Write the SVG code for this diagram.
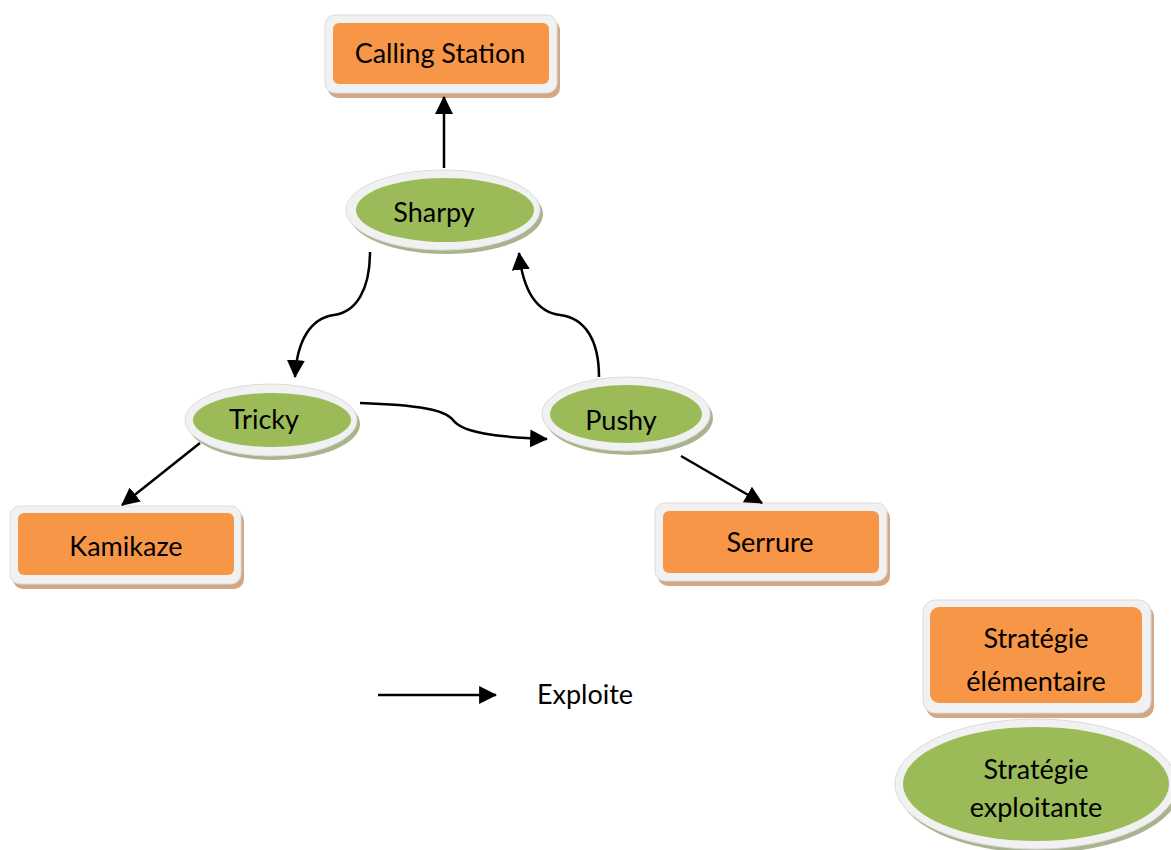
<svg xmlns="http://www.w3.org/2000/svg" width="1171" height="850" viewBox="0 0 1171 850">
<defs>
<style>
.t{font-family:Lato,"Open Sans","Liberation Sans",sans-serif;font-size:27px;fill:#000;text-anchor:middle;dominant-baseline:central}
.frame{fill:#f1f1f1;stroke:#dcdcdc;stroke-width:1}
.rs{fill:#d3a684}
.es{fill:#a9b38e}
.or{fill:#f79646}
.gr{fill:#9bbb59}
.c{fill:none;stroke:#000;stroke-width:2.5;marker-end:url(#ah)}
</style>
<marker id="ah" markerUnits="userSpaceOnUse" markerWidth="18" markerHeight="18" viewBox="0 0 16 16" refX="15" refY="8" orient="auto">
<path d="M0,0 L16,8 L0,16 Z" fill="#000"/>
</marker>
</defs>
<rect width="1171" height="850" fill="#fff"/>

<g id="calling-station">
<rect class="rs" x="328" y="20" width="232" height="78" rx="10"/>
<rect class="frame" x="325" y="15" width="232" height="78" rx="10"/>
<rect class="or" x="333" y="23" width="216" height="61" rx="6"/>
<text class="t" x="440" y="52">Calling Station</text>
</g>

<g id="sharpy">
<ellipse class="es" cx="446" cy="214" rx="97" ry="40"/>
<ellipse class="frame" cx="443" cy="210" rx="97" ry="40"/>
<ellipse class="gr" cx="445" cy="210" rx="89" ry="32"/>
<text class="t" x="434" y="211">Sharpy</text>
</g>

<g id="tricky">
<ellipse class="es" cx="274" cy="424" rx="86" ry="36"/>
<ellipse class="frame" cx="271" cy="420" rx="86" ry="36"/>
<ellipse class="gr" cx="272" cy="420" rx="79" ry="27"/>
<text class="t" x="264" y="418">Tricky</text>
</g>

<g id="pushy">
<ellipse class="es" cx="629" cy="418" rx="84" ry="37"/>
<ellipse class="frame" cx="626" cy="414" rx="84" ry="37"/>
<ellipse class="gr" cx="626" cy="414" rx="76" ry="29"/>
<text class="t" x="621" y="419">Pushy</text>
</g>

<g id="kamikaze">
<rect class="rs" x="13" y="511" width="231" height="78" rx="10"/>
<rect class="frame" x="10" y="506" width="231" height="78" rx="10"/>
<rect class="or" x="18" y="513" width="216" height="62" rx="6"/>
<text class="t" x="126" y="545">Kamikaze</text>
</g>

<g id="serrure">
<rect class="rs" x="658" y="508" width="232" height="78" rx="10"/>
<rect class="frame" x="655" y="503" width="232" height="78" rx="10"/>
<rect class="or" x="663" y="511" width="216" height="62" rx="6"/>
<text class="t" x="770" y="541">Serrure</text>
</g>

<g id="legend-elementaire">
<rect class="rs" x="926" y="605" width="228" height="113" rx="12"/>
<rect class="frame" x="923" y="600" width="228" height="113" rx="12"/>
<rect class="or" x="930" y="607" width="212" height="96" rx="9"/>
<text class="t" x="1036" y="637">Stratégie</text>
<text class="t" x="1036" y="680">élémentaire</text>
</g>

<g id="legend-exploitante">
<ellipse class="es" cx="1039" cy="788" rx="141" ry="65"/>
<ellipse class="frame" cx="1036" cy="784" rx="141" ry="65"/>
<ellipse class="gr" cx="1036" cy="784" rx="133" ry="57"/>
<text class="t" x="1036" y="768">Stratégie</text>
<text class="t" x="1036" y="806">exploitante</text>
</g>

<g id="legend-exploite">
<line class="c" x1="378" y1="695" x2="496" y2="695"/>
<text class="t" x="585" y="693">Exploite</text>
</g>

<g id="connectors">
<line class="c" x1="444" y1="168" x2="444" y2="97"/>
<path class="c" d="M370,252 C370,290 356,312 334,315 C311,318 297,340 295,377"/>
<path class="c" d="M599,377 C599,340 585,318 560,315 C536,312 523,290 519,253"/>
<path class="c" d="M360,403 C420,405 445,410 453,420 C462,432 492,437 547,439"/>
<line class="c" x1="200" y1="443" x2="122" y2="505"/>
<line class="c" x1="681" y1="456" x2="762" y2="503"/>
</g>
</svg>
